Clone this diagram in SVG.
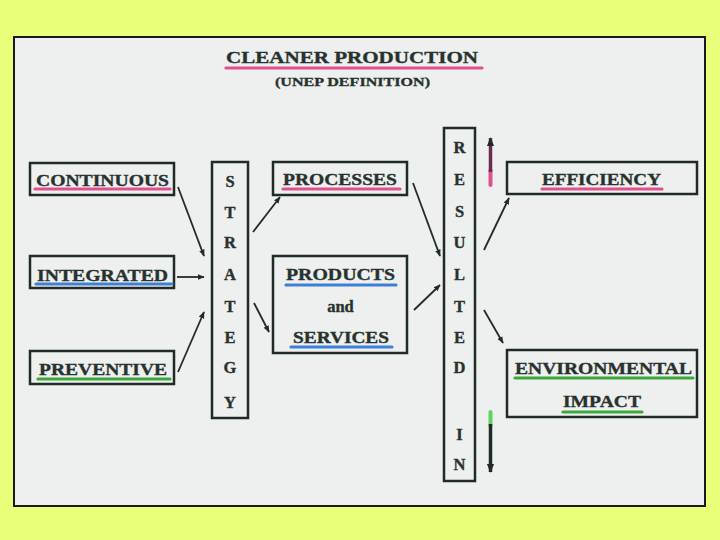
<svg xmlns="http://www.w3.org/2000/svg" width="720" height="540" viewBox="0 0 720 540">
<defs>
<style>
.t{font-family:"Liberation Serif","Times New Roman",serif;font-weight:bold;fill:#27322e;stroke:#27322e;stroke-width:0.35;}
.box{fill:none;stroke:#1f2b26;stroke-width:2.5;}
.c{stroke:#222b27;stroke-width:1.8;fill:none;marker-end:url(#ah);}
.ul{stroke-width:3.2;stroke-linecap:round;fill:none;}
.pink{stroke:#e0508f;}
.blue{stroke:#3f7fd6;}
.green{stroke:#3aa83a;}
.l{font-size:16.5px;text-anchor:middle;}
</style>
<marker id="ah" viewBox="0 0 10 10" refX="9" refY="5" markerWidth="7" markerHeight="7" orient="auto" markerUnits="userSpaceOnUse">
<path d="M0,1 L10,5 L0,9 z" fill="#222b27"/>
</marker>
<marker id="ah2" viewBox="0 0 10 10" refX="9" refY="5" markerWidth="9" markerHeight="9" orient="auto" markerUnits="userSpaceOnUse">
<path d="M0,1 L10,5 L0,9 z" fill="#1f2b26"/>
</marker>
</defs>
<rect x="0" y="0" width="720" height="540" fill="#e9ff7a"/>
<rect x="14" y="37" width="691" height="469" fill="#eef0ef" stroke="#1a1a1a" stroke-width="2"/>

<g id="title">
<text class="t" x="226" y="63" font-size="16.5" textLength="252" lengthAdjust="spacingAndGlyphs">CLEANER PRODUCTION</text>
<line class="ul pink" x1="226" y1="68" x2="482" y2="68"/>
<text class="t" x="275" y="86" font-size="13.5" textLength="155" lengthAdjust="spacingAndGlyphs">(UNEP DEFINITION)</text>
</g>

<g id="continuous">
<rect class="box" x="30" y="163" width="144" height="32"/>
<text class="t" x="36" y="186" font-size="16.5" textLength="133" lengthAdjust="spacingAndGlyphs">CONTINUOUS</text>
<line class="ul pink" x1="35" y1="189" x2="170" y2="189"/>
</g>
<g id="integrated">
<rect class="box" x="30" y="256" width="144" height="32"/>
<text class="t" x="37" y="281" font-size="16.5" textLength="131" lengthAdjust="spacingAndGlyphs">INTEGRATED</text>
<line class="ul blue" x1="36" y1="284" x2="172" y2="284"/>
</g>
<g id="preventive">
<rect class="box" x="30" y="351" width="144" height="33"/>
<text class="t" x="39" y="375" font-size="16.5" textLength="128" lengthAdjust="spacingAndGlyphs">PREVENTIVE</text>
<line class="ul green" x1="38" y1="379" x2="170" y2="379"/>
</g>

<g id="strategy">
<rect class="box" x="212" y="162" width="36" height="256"/>
<text class="t l" x="230" y="187">S</text>
<text class="t l" x="230" y="218">T</text>
<text class="t l" x="230" y="248">R</text>
<text class="t l" x="230" y="280">A</text>
<text class="t l" x="230" y="312">T</text>
<text class="t l" x="230" y="343">E</text>
<text class="t l" x="230" y="373">G</text>
<text class="t l" x="230" y="408">Y</text>
</g>

<g id="processes">
<rect class="box" x="273" y="162" width="134" height="33"/>
<text class="t" x="283" y="185" font-size="16.5" textLength="114" lengthAdjust="spacingAndGlyphs">PROCESSES</text>
<line class="ul pink" x1="283" y1="189" x2="400" y2="189"/>
</g>
<g id="products">
<rect class="box" x="273" y="256" width="134" height="97"/>
<text class="t" x="286" y="280" font-size="16.5" textLength="109" lengthAdjust="spacingAndGlyphs">PRODUCTS</text>
<line class="ul blue" x1="286" y1="285" x2="396" y2="285"/>
<text class="t" x="340.5" y="312" font-size="16.5" text-anchor="middle">and</text>
<text class="t" x="293" y="343" font-size="16.5" textLength="96" lengthAdjust="spacingAndGlyphs">SERVICES</text>
<line class="ul blue" x1="291" y1="347" x2="392" y2="347"/>
</g>

<g id="resulted">
<rect class="box" x="444" y="128" width="31" height="353"/>
<text class="t l" x="459.5" y="153">R</text>
<text class="t l" x="459.5" y="185">E</text>
<text class="t l" x="459.5" y="217">S</text>
<text class="t l" x="459.5" y="248">U</text>
<text class="t l" x="459.5" y="280">L</text>
<text class="t l" x="459.5" y="312">T</text>
<text class="t l" x="459.5" y="343">E</text>
<text class="t l" x="459.5" y="373">D</text>
<text class="t l" x="459.5" y="440">I</text>
<text class="t l" x="459.5" y="470">N</text>
</g>

<g id="efficiency">
<rect class="box" x="507" y="162" width="190" height="32"/>
<text class="t" x="542" y="185" font-size="16.5" textLength="119" lengthAdjust="spacingAndGlyphs">EFFICIENCY</text>
<line class="ul pink" x1="542" y1="189" x2="662" y2="189"/>
</g>
<g id="environmental">
<rect class="box" x="507" y="350" width="190" height="67"/>
<text class="t" x="515" y="374" font-size="16.5" textLength="177" lengthAdjust="spacingAndGlyphs">ENVIRONMENTAL</text>
<line class="ul green" x1="515" y1="378" x2="693" y2="378"/>
<text class="t" x="563" y="407" font-size="16.5" textLength="78" lengthAdjust="spacingAndGlyphs">IMPACT</text>
<line class="ul green" x1="563" y1="412" x2="642" y2="412"/>
</g>

<g id="connectors">
<line class="c" x1="178" y1="187" x2="204" y2="256"/>
<line class="c" x1="177" y1="277" x2="204" y2="277"/>
<line class="c" x1="178" y1="372" x2="204" y2="312"/>
<line class="c" x1="253" y1="232" x2="280" y2="197"/>
<line class="c" x1="254" y1="303" x2="269" y2="332"/>
<line class="c" x1="413" y1="183" x2="440" y2="256"/>
<line class="c" x1="414" y1="310" x2="440" y2="285"/>
<line class="c" x1="484" y1="250" x2="509" y2="198"/>
<line class="c" x1="484" y1="310" x2="503" y2="343"/>
<line x1="490.5" y1="185" x2="490.5" y2="170" stroke="#e0508f" stroke-width="4" stroke-linecap="round"/>
<line x1="490.5" y1="172" x2="490.5" y2="138" stroke="#6a2c4c" stroke-width="3.5" marker-end="url(#ah2)"/>
<line x1="490.5" y1="412" x2="490.5" y2="426" stroke="#5fd35f" stroke-width="4" stroke-linecap="round"/>
<line x1="490.5" y1="424" x2="490.5" y2="472" stroke="#1f2b26" stroke-width="3.5" marker-end="url(#ah2)"/>
</g>
</svg>
